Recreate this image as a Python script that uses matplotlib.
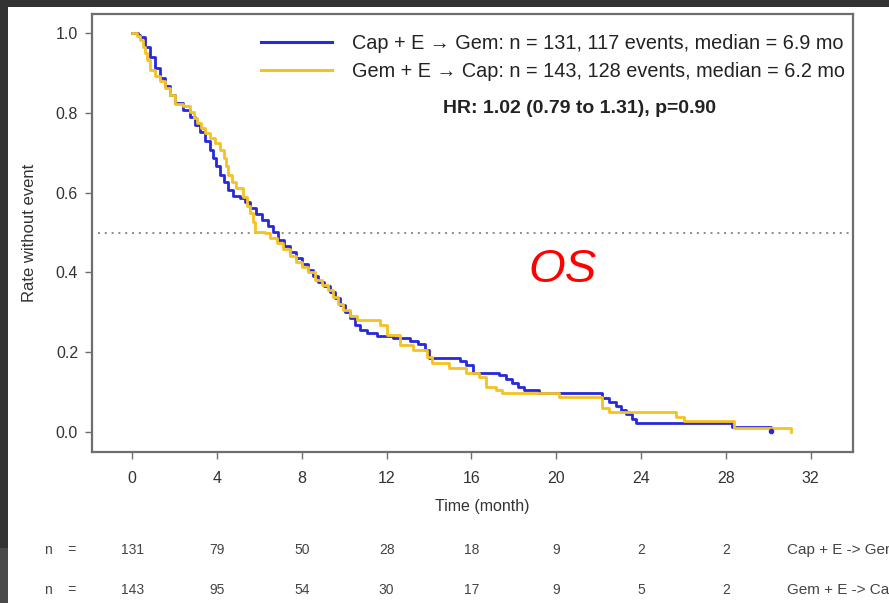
import matplotlib
matplotlib.use("Agg")
import matplotlib.pyplot as plt
from matplotlib.patches import Rectangle
from matplotlib.transforms import blended_transform_factory

plt.rcParams['font.family'] = ['Liberation Sans', 'DejaVu Sans']

# Kaplan-Meier step points (month, rate without event)
cap_t = [0, 0.28, 0.38, 0.61, 0.85, 1.08, 1.32, 1.55, 1.79, 2.02, 2.4, 2.73, 2.96, 3.2,
         3.44, 3.67, 3.81, 3.95, 4.14, 4.33, 4.52, 4.75, 5.08, 5.32, 5.55, 5.84, 6.12,
         6.4, 6.64, 6.87, 7.15, 7.44, 7.72, 8.0, 8.28, 8.52, 8.75, 9.04, 9.32, 9.55,
         9.79, 10.02, 10.26, 10.49, 10.73, 11.06, 11.53, 12.28, 13.08, 13.46, 13.79,
         14.02, 15.44, 15.76, 16.05, 17.32, 17.65, 17.93, 18.21, 18.49, 19.2, 22.16,
         22.49, 22.82, 23.06, 23.29, 23.58, 23.76, 28.28, 30.12]
cap_s = [1.0, 0.995, 0.99, 0.965, 0.94, 0.912, 0.887, 0.867, 0.845, 0.825, 0.807, 0.79,
         0.77, 0.752, 0.73, 0.707, 0.687, 0.667, 0.644, 0.627, 0.607, 0.591, 0.586,
         0.576, 0.561, 0.546, 0.531, 0.516, 0.501, 0.481, 0.466, 0.451, 0.436, 0.421,
         0.406, 0.391, 0.376, 0.366, 0.351, 0.336, 0.318, 0.301, 0.286, 0.268, 0.256,
         0.248, 0.241, 0.236, 0.228, 0.221, 0.206, 0.185, 0.178, 0.168, 0.148, 0.143,
         0.133, 0.123, 0.113, 0.105, 0.098, 0.085, 0.075, 0.065, 0.055, 0.045, 0.033,
         0.023, 0.0115, 0.0]

gem_t = [0, 0.09, 0.24, 0.38, 0.52, 0.61, 0.71, 0.85, 1.08, 1.32, 1.55, 1.79, 2.02, 2.4,
         2.73, 2.92, 3.06, 3.25, 3.44, 3.67, 3.91, 4.14, 4.33, 4.42, 4.52, 4.71, 4.89,
         5.22, 5.41, 5.55, 5.69, 5.79, 6.26, 6.49, 6.82, 7.11, 7.44, 7.72, 8.0, 8.28,
         8.61, 8.94, 9.22, 9.46, 9.69, 9.93, 10.26, 10.59, 11.67, 12.0, 12.61, 13.22,
         13.88, 14.16, 14.96, 15.76, 16.38, 16.71, 17.18, 17.46, 20.14, 22.16, 22.49,
         25.65, 26.02, 28.38, 31.06]
gem_s = [1.0, 1.0, 0.993, 0.982, 0.965, 0.95, 0.932, 0.907, 0.892, 0.88, 0.862, 0.845,
         0.822, 0.817, 0.802, 0.787, 0.774, 0.762, 0.749, 0.737, 0.724, 0.707, 0.687,
         0.667, 0.644, 0.627, 0.612, 0.589, 0.566, 0.549, 0.526, 0.501, 0.499, 0.486,
         0.474, 0.459, 0.441, 0.426, 0.414, 0.401, 0.381, 0.368, 0.356, 0.338, 0.321,
         0.306, 0.291, 0.281, 0.268, 0.243, 0.218, 0.206, 0.188, 0.173, 0.16, 0.148,
         0.138, 0.113, 0.105, 0.098, 0.088, 0.06, 0.05, 0.038, 0.028, 0.01, 0.0]

cap_label = "Cap + E \u2192 Gem: n = 131, 117 events, median = 6.9 mo"
gem_label = "Gem + E \u2192 Cap: n = 143, 128 events, median = 6.2 mo"
hr_text = "HR: 1.02 (0.79 to 1.31), p=0.90"

risk_times = [0, 4, 8, 12, 16, 20, 24, 28]
cap_risk = [131, 79, 50, 28, 18, 9, 2, 2]
gem_risk = [143, 95, 54, 30, 17, 9, 5, 2]
risk_names = ["Cap + E -> Gem", "Gem + E -> Cap"]

blue = '#2828dc'
gold = '#f4c222'
frame = '#6e6e6e'
txt = '#333333'

fig = plt.figure(figsize=(8.89, 6.03), dpi=100)
fig.patch.set_facecolor('white')

# dark slide edges
fig.patches.append(Rectangle((0, 1 - 7 / 603), 1, 7 / 603, transform=fig.transFigure,
                             facecolor='#333333', edgecolor='none', zorder=0))
fig.patches.append(Rectangle((0, 55 / 603), 8 / 889, 1 - 55 / 603, transform=fig.transFigure,
                             facecolor='#333333', edgecolor='none', zorder=0))
fig.patches.append(Rectangle((0, 0), 8 / 889, 55 / 603, transform=fig.transFigure,
                             facecolor='#4a4a4a', edgecolor='none', zorder=0))

ax = fig.add_axes([92 / 889, 1 - 452 / 603, 761 / 889, 438 / 603])
ax.step(cap_t, cap_s, where='post', color=blue, lw=2.0, label=cap_label, zorder=3)
ax.step(gem_t, gem_s, where='post', color=gold, lw=2.0, label=gem_label, zorder=4)
ax.plot(cap_t[-1], cap_s[-1] + 0.003, 'o', color=blue, ms=3, zorder=5)

ax.axhline(0.5, xmin=0.008, color='#8a8a8a', lw=1.4, ls=(0, (1, 2.5)), zorder=2)

ax.set_xlim(-1.9, 34)
ax.set_ylim(-0.05, 1.048)
ax.set_xticks(range(0, 33, 4))
ax.set_yticks([0.0, 0.2, 0.4, 0.6, 0.8, 1.0])
ax.set_yticklabels(['0.0', '0.2', '0.4', '0.6', '0.8', '1.0'])
ax.tick_params(axis='both', direction='out', colors=frame, labelcolor=txt,
               labelsize=11.5, length=5, width=1)
ax.tick_params(axis='x', pad=9)
ax.tick_params(axis='y', pad=5)
for sp in ax.spines.values():
    sp.set_color(frame)
    sp.set_linewidth(1.6)

leg = ax.legend(loc='upper left', bbox_to_anchor=(0.222, 0.955), frameon=False,
                fontsize=14.3, handlelength=3.6, handletextpad=1.0, labelspacing=0.45,
                borderpad=0, borderaxespad=0)
for t in leg.get_texts():
    t.set_color('#222222')
for h in leg.get_lines():
    h.set_linewidth(2.2)

ax.text(0.64, 0.785, hr_text, transform=ax.transAxes, ha='center', va='center',
        fontsize=14, fontweight='bold', color='#222222')
ax.text(20.3, 0.405, "OS", ha='center', va='center', fontsize=34, style='italic',
        color='#ff0000')

fig.text(482 / 889, 1 - 507 / 603, "Time (month)", ha='center', va='center',
         fontsize=11.5, color=txt)
fig.text(30 / 889, 1 - 233 / 603, "Rate without event", ha='center', va='center',
         rotation=90, fontsize=12, color=txt)

# numbers at risk under the time axis
tr = blended_transform_factory(ax.transData, fig.transFigure)
for row_y, counts, name in [(1 - 550 / 603, cap_risk, risk_names[0]),
                            (1 - 590 / 603, gem_risk, risk_names[1])]:
    fig.text(45 / 889, row_y, "n    =", ha='left', va='center', fontsize=10, color='#444444')
    for t, n in zip(risk_times, counts):
        fig.text(t, row_y, str(n), transform=tr, ha='center', va='center',
                 fontsize=10, color='#444444')
    fig.text(787 / 889, row_y, name, ha='left', va='center', fontsize=11, color='#444444')

fig.savefig('out.png', dpi=100)
